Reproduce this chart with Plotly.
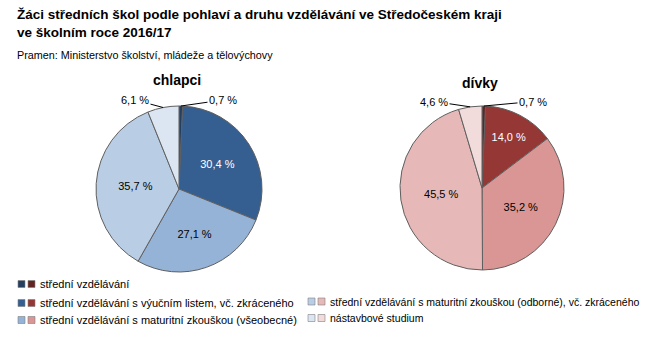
import math
import plotly.graph_objects as go

categories = [
    "střední vzdělávání",
    "střední vzdělávání s výučním listem, vč. zkráceného",
    "střední vzdělávání s maturitní zkouškou (všeobecné)",
    "střední vzdělávání s maturitní zkouškou (odborné), vč. zkráceného",
    "nástavbové studium",
]
boys = [0.7, 30.4, 27.1, 35.7, 6.1]
girls = [0.7, 14.0, 35.2, 45.5, 4.6]
boys_colors = ["#243f60", "#365f91", "#95b3d7", "#b9cde5", "#dce6f2"]
girls_colors = ["#632523", "#953735", "#d99694", "#e6b9b8", "#f2dcdb"]
pie_titles = ["chlapci", "dívky"]

FONT = "Arial, Liberation Sans, sans-serif"
W, H = 654, 340


def fmt(v):
    return f"{v:.1f} %".replace(".", ",")


outside = [True, False, False, False, True]

# pie geometry (pixel centre x, centre y, radius)
pies = [
    dict(vals=boys, cols=boys_colors, cx=179, cy=189, r=83, title_xy=(177, 80),
         label_off={0: (223, 100), 4: (135, 100)}),
    dict(vals=girls, cols=girls_colors, cx=482, cy=188, r=82, title_xy=(480, 83),
         label_off={0: (533, 101.5), 4: (434, 101.5)}),
]

fig = go.Figure()
ann = []
for p in pies:
    vals, cols, cx, cy, r = p["vals"], p["cols"], p["cx"], p["cy"], p["r"]
    texts = ["" if outside[i] else fmt(v) for i, v in enumerate(vals)]
    fig.add_trace(go.Pie(
        labels=categories, values=vals, sort=False, direction="clockwise", rotation=0,
        marker=dict(colors=cols, line=dict(color="#5f5f5f", width=1)),
        text=texts, textinfo="text", textposition="inside",
        textfont=dict(family=FONT, size=11, color=["#ffffff" if i == 1 else "#000000" for i in range(len(vals))]),
        insidetextorientation="horizontal",
        hovertext=[fmt(v) for v in vals], hoverinfo="label+text", showlegend=False,
        domain=dict(x=[(cx - r) / W, (cx + r) / W], y=[(H - cy - r) / H, (H - cy + r) / H]),
    ))
    # outside labels with leader lines anchored at slice mid-angle
    total = sum(vals)
    cum = 0.0
    for i, v in enumerate(vals):
        mid = (cum + v / 2) / total * 2 * math.pi
        cum += v
        if not outside[i]:
            continue
        axp = cx + r * math.sin(mid)
        ayp = cy - r * math.cos(mid)
        tx, ty = p["label_off"][i]
        ann.append(dict(x=axp / W, y=1 - ayp / H, text=fmt(v), showarrow=True,
                        arrowhead=0, arrowwidth=1, arrowcolor="#000", standoff=0,
                        ax=tx - axp, ay=ty - ayp,
                        font=dict(family=FONT, size=11, color="#000")))

for t, p in zip(pie_titles, pies):
    tx, ty = p["title_xy"]
    ann.append(dict(x=tx / W, y=1 - ty / H, xanchor="center", yanchor="middle", showarrow=False,
                    text=f"<b>{t}</b>", font=dict(family=FONT, size=14, color="#000")))

ann += [
    dict(x=15 / W, y=1 - 5 / H, xanchor="left", yanchor="top", align="left", showarrow=False,
         text="<b>Žáci středních škol podle pohlaví a druhu vzdělávání ve Středočeském kraji<br>ve školním roce 2016/17</b>",
         font=dict(family=FONT, size=13.5, color="#000")),
    dict(x=15 / W, y=1 - 55 / H, xanchor="left", yanchor="middle", showarrow=False,
         text="Pramen: Ministerstvo školství, mládeže a tělovýchovy",
         font=dict(family=FONT, size=10.8, color="#000")),
]

# legend (manual: two swatches per category)
leg_pos = [(18, 284), (18, 303), (18, 320), (308, 301.5), (308, 318)]
leg_size = [11, 11, 11, 10.5, 10.5]
shapes = []
for i, (lx, ly) in enumerate(leg_pos):
    for j, col in enumerate([boys_colors[i], girls_colors[i]]):
        x0 = lx + j * 10
        shapes.append(dict(type="rect", xref="paper", yref="paper",
                           x0=x0 / W, x1=(x0 + 7) / W, y0=1 - (ly + 3.5) / H, y1=1 - (ly - 3.5) / H,
                           fillcolor=col, line=dict(color="#7f7f7f", width=0.6)))
    ann.append(dict(x=(lx + 20) / W, y=1 - ly / H, xanchor="left", yanchor="middle", showarrow=False,
                    text=categories[i], font=dict(family=FONT, size=leg_size[i], color="#000")))

fig.update_layout(
    width=W, height=H, margin=dict(l=0, r=0, t=0, b=0),
    paper_bgcolor="white", plot_bgcolor="white",
    annotations=[dict(a, xref="paper", yref="paper") for a in ann],
    shapes=shapes,
)
fig.write_html("out.html")
